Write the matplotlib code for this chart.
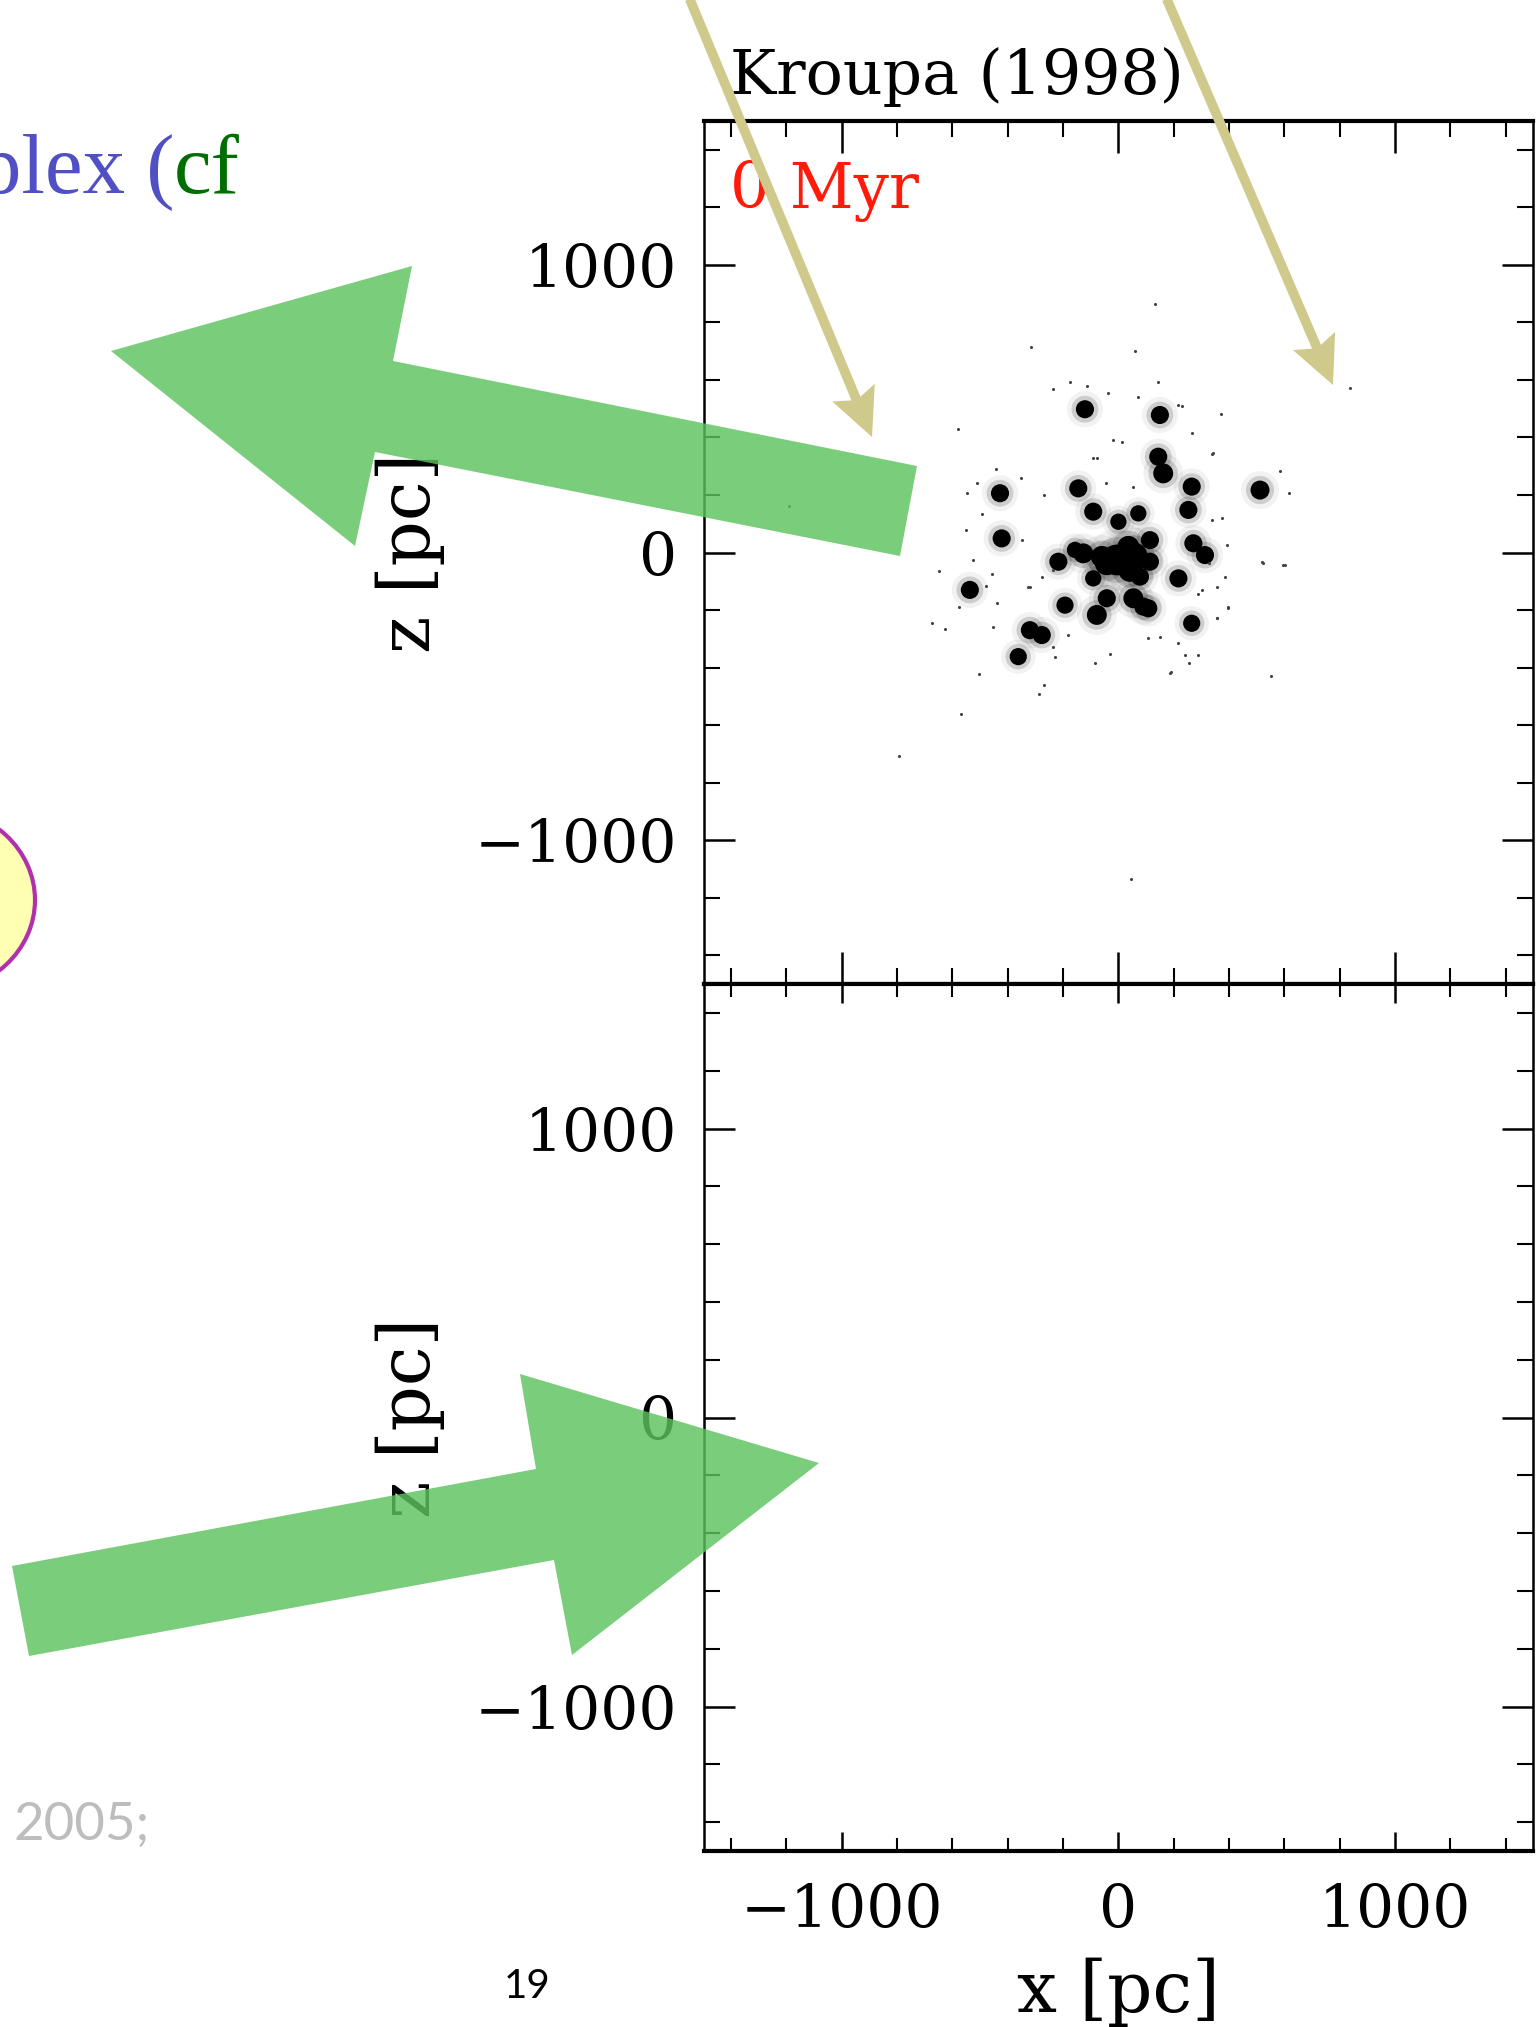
import matplotlib
matplotlib.use("Agg")
import matplotlib.pyplot as plt
import numpy as np
from matplotlib.ticker import MultipleLocator
from matplotlib.patches import Polygon, Ellipse
from matplotlib.lines import Line2D

# ---------------- data (pc) ----------------
cluster_x = [-121, 150, -428, -145, 144, 162, 265, 512, -91, 0, 72, 253, -422, 114,
             271, 313, -217, -127, -6, 54, 114, -91, 78, 217, -537, -193, -42, 54,
             108, -78, 265, -320, -277, -362, -157, 42, -42, 36, -60, 90]
cluster_z = [498, 478, 206, 223, 333, 275, 229, 217, 142, 107, 136, 148, 49, 43,
             32, -9, -32, -3, -26, -15, -32, -90, -84, -90, -130, -183, -159, -159,
             -194, -217, -246, -270, -287, -362, 9, -61, -38, 20, -15, -188]
cluster_rich = [1.0, 1.0, 1.0, 1.0, 1.0, 1.1, 1.0, 1.05, 1.0, 0.9, 0.9, 1.0, 1.0, 1.0,
                1.0, 1.0, 1.0, 1.1, 1.7, 1.6, 1.0, 0.9, 1.0, 1.0, 1.0, 0.95, 1.0, 1.1,
                1.0, 1.1, 0.95, 1.0, 1.0, 0.95, 0.9, 1.3, 1.3, 1.2, 1.2, 1.0]

star_x = [132, -316, 60, -580, 837, 371, 13, -92, 338, 266,
          -1191, -649, -674, -627, -504, -569, -793, 46, 551, 518,
          602, 616, 583, 395, 356, 190, -287, -269, -30, -84,
          -229, 288, 255, -175, -113, -236, -38, 143, 230, -269,
          -547, -511, -443, -352, -551, -493, -526, -320, -457, -576,
          -479, 393, 375, 328, 356, 288, 53, -45, -77, -350,
          337, 385, 301, 150, 108, -181, -235, -452, -440, -235,
          -277, -326, 217, 241, -18, 72, 217, 343, 187, 355,
          397, 524, 596]
star_z = [864, 716, 699, 430, 572, 482, 384, 329, 343, 416,
          162, -64, -245, -266, -423, -562, -708, -1136, -430, -33,
          -43, 207, 283, -190, -228, -416, -492, -461, -353, -384,
          -363, -356, -384, 593, 579, 569, 555, 593, 510, 200,
          207, 242, 290, 259, 78, 134, -26, -120, -75, -190,
          -117, 26, 120, -37, -120, -144, 228, 242, 329, 43,
          113, -84, -130, -293, -298, -287, -328, -258, -177, -61,
          -84, -119, -316, -356, 391, 542, 513, 345, -418, -229,
          -194, -38, -43]

axis_limits = (-1500, 1500)
major_step = 1000
minor_step = 200
title_text = "Kroupa (1998)"
time_label = "0 Myr"
xlabel_text = "x [pc]"
ylabel_text = "z [pc]"

# ---------------- figure ----------------
W, H = 1536, 2027
plt.rcParams['font.family'] = ['DejaVu Serif']
fig = plt.figure(figsize=(W / 100, H / 100), dpi=100)
fig.patch.set_facecolor('white')


def fx(x):
    return x / W


def fy(y):
    return 1 - y / H


AX_L, AX_R = 703.5, 1533.3
ax1 = fig.add_axes([fx(AX_L), fy(984), (AX_R - AX_L) / W, (984 - 121) / H])
ax2 = fig.add_axes([fx(AX_L), fy(1851), (AX_R - AX_L) / W, (1851 - 984) / H])

FS = 43
LFS = 51
for ax in (ax1, ax2):
    ax.set_xlim(*axis_limits)
    ax.set_ylim(*axis_limits)
    ax.xaxis.set_major_locator(MultipleLocator(major_step))
    ax.xaxis.set_minor_locator(MultipleLocator(minor_step))
    ax.yaxis.set_major_locator(MultipleLocator(major_step))
    ax.yaxis.set_minor_locator(MultipleLocator(minor_step))
    ax.tick_params(which='both', direction='in', top=True, right=True,
                   labelsize=FS, colors='black')
    ax.tick_params(axis='y', which='major', length=22, width=1.8, pad=19)
    ax.tick_params(axis='y', which='minor', length=11.5, width=1.5)
    for s in ('top', 'bottom'):
        ax.spines[s].set_linewidth(3.0)
    for s in ('left', 'right'):
        ax.spines[s].set_linewidth(1.8)
    ax.set_facecolor('white')
    ax.set_ylabel(ylabel_text, fontsize=LFS)
    ax.yaxis.set_label_coords(-0.3537, 0.5)
    ax.yaxis.label.set_verticalalignment('center')

ax1.tick_params(axis='x', which='major', length=23, width=1.8, labelbottom=False)
ax1.tick_params(axis='x', which='minor', length=11.5, width=1.5)
ax2.tick_params(axis='x', which='major', length=14, width=1.8, pad=22)
ax2.tick_params(axis='x', which='minor', length=9.5, width=1.5)
ax2.set_xlabel(xlabel_text, fontsize=LFS)
ax2.xaxis.set_label_coords(0.5, -0.163)
ax2.xaxis.label.set_verticalalignment('center')

# clusters: halo + core
rich = np.array(cluster_rich)
core_s = 170 * rich ** 2
ax1.scatter(cluster_x, cluster_z, s=core_s * 4.0, c='black', alpha=0.05,
            linewidths=0, zorder=2)
ax1.scatter(cluster_x, cluster_z, s=core_s * 2.2, c='black', alpha=0.15,
            linewidths=0, zorder=3)
ax1.scatter(cluster_x, cluster_z, s=core_s, c='black', linewidths=0, zorder=4)
ax1.scatter(star_x, star_z, s=5, c='#444444', linewidths=0, zorder=4)

t = ax1.set_title(title_text, loc='left', fontsize=44.5, pad=19.5)
t.set_x(0.032)
ax1.text(0.032, 0.899, time_label, transform=ax1.transAxes, color='#ff1a0a',
         fontsize=45, ha='left', va='baseline')

# ---------------- slide overlays ----------------
# partial body text
green_txt = '#006e00'
blue_txt = '#5050c4'
t_cf = fig.text(fx(240), fy(192.7), 'cf', ha='right', va='baseline',
                color=green_txt, family='Liberation Serif', fontsize=61)
fig.canvas.draw()
r = fig.canvas.get_renderer()
w_cf = t_cf.get_window_extent(r).width
fig.text(fx(240 - w_cf), fy(192.7), 'plex (', ha='right', va='baseline',
         color=blue_txt, family='Liberation Serif', fontsize=61)

# yellow ellipse
fig.add_artist(Ellipse((fx(-65), fy(900)), width=200 / W, height=184 / H,
                       transform=fig.transFigure, fc='#ffffb3', ec='#b030b0',
                       lw=3, zorder=5))

# gray citation fragment and page number
fig.text(fx(14), fy(1840), '2005;', color='#bdbdbd', family='Lato', fontsize=38,
         ha='left', va='baseline')
fig.text(fx(527), fy(1986), '19', color='black', family='Lato', fontsize=29,
         ha='center', va='center')


def px_poly(pts, **kw):
    p = Polygon([(fx(a), fy(b)) for a, b in pts], closed=True,
                transform=fig.transFigure, **kw)
    fig.add_artist(p)


green = '#5dc25d'
px_poly([(917, 466), (393, 361), (412, 266), (111, 351), (355, 546), (375, 452),
         (900, 556)], fc=green, ec='none', alpha=0.82, zorder=20)
px_poly([(12, 1566), (536, 1469), (520, 1374), (819, 1463), (572, 1655), (554, 1560),
         (29, 1656)], fc=green, ec='none', alpha=0.82, zorder=20)

khaki = '#cfca8c'


def khaki_arrow(p0, p1):
    p0 = np.array(p0, float)
    p1 = np.array(p1, float)
    d = p1 - p0
    u = d / np.hypot(*d)
    n = np.array([-u[1], u[0]])
    back = p1 - 48 * u
    b1 = back + 23 * n
    b2 = back - 23 * n
    notch = p1 - 40 * u
    fig.add_artist(Line2D([fx(p0[0]), fx(notch[0] + 2 * u[0])],
                          [fy(p0[1]), fy(notch[1] + 2 * u[1])],
                          transform=fig.transFigure, color=khaki, lw=7,
                          solid_capstyle='butt', zorder=30))
    px_poly([tuple(p1), tuple(b1), tuple(notch), tuple(b2)], fc=khaki, ec='none',
            zorder=31)


khaki_arrow((688, -5), (872, 437))
khaki_arrow((1165, -5), (1333, 385))

fig.savefig('out.png', dpi=100)
